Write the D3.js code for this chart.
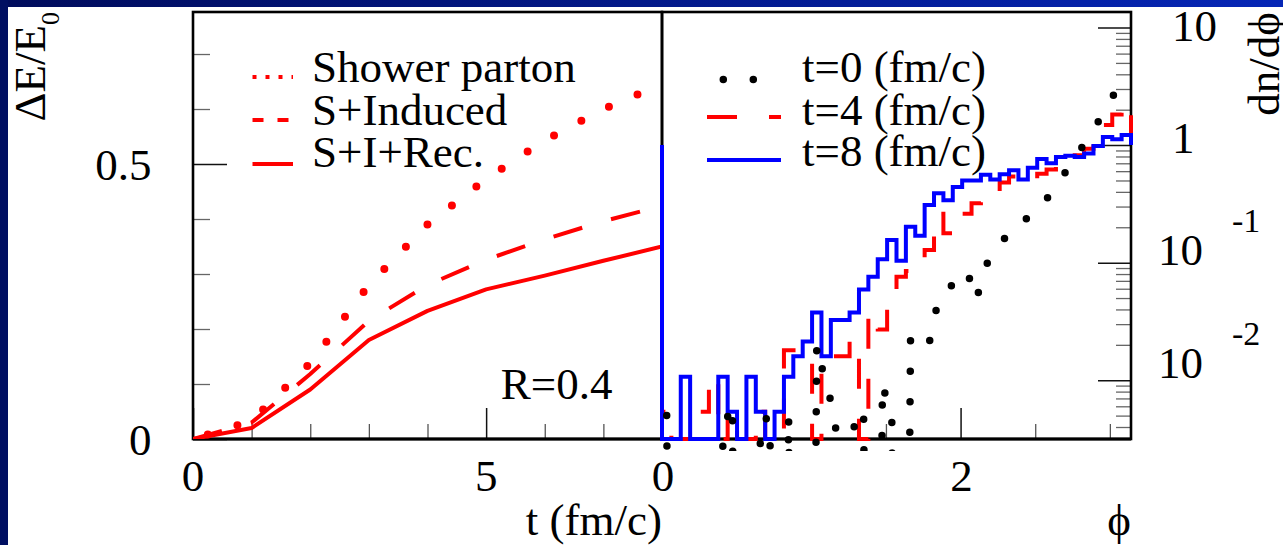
<!DOCTYPE html>
<html><head><meta charset="utf-8">
<script src="https://cdn.jsdelivr.net/npm/d3@7"></script>
<style>
body{margin:0;background:#fff;overflow:hidden}
text{font-family:"Liberation Serif","Times New Roman",serif;fill:#000}
</style>
</head><body>
<svg id="c" width="1283" height="545"></svg>
<script>
// ---------------- data ----------------
const tTimes       = [0, 1, 2, 3, 4, 5, 6, 7, 8];
const showerParton = [0, 0.033, 0.138, 0.28, 0.39, 0.473, 0.543, 0.60, 0.645];
const sInduced     = [0, 0.030, 0.118, 0.215, 0.28, 0.326, 0.363, 0.396, 0.424];
const sIRec        = [0, 0.020, 0.090, 0.180, 0.233, 0.272, 0.297, 0.324, 0.350];
const leftLegend   = ["Shower parton", "S+Induced", "S+I+Rec."];
const rightLegend  = ["t=0 (fm/c)", "t=4 (fm/c)", "t=8 (fm/c)"];
const rLabel       = "R=0.4";

const nBins = 50;
const hist_t0 = [0.0050,0,0,0,0,0,0.0038,0.0063,0,0,
                 0.0047,0.0047,0,0.0050,0,0,0.020,0.0089,0.0050,0,
                 0.0056,0.0047,0,0.0093,0.0047,0,0.025,0.024,0.021,0.050,
                 0.060,0.071,0.086,0.048,0.093,0.13,0.16,0.21,0.23,0.25,
                 0.30,0.40,0.50,0.69,0.89,1.17,1.58,2.14,3.02,4.17];
const hist_t4 = [0.0054,0,0,0,0.0054,0.0107,0,0.0054,0,0,
                 0.0054,0,0,0.018,0.018,0.0165,0,0.016,0.016,0.016,
                 0.022,0,0.037,0.027,0.057,0.076,0.085,0.101,0.128,0.26,
                 0.178,0.25,0.26,0.32,0.33,0.38,0.48,0.54,0.52,0.49,
                 0.57,0.62,0.66,0.72,0.82,0.93,1.17,1.48,1.82,2.25];
const hist_t8 = [0,0,0.0107,0,0,0,0.0107,0.0054,0,0.0107,
                 0.0054,0,0.0054,0.0107,0.016,0.0213,0.0376,0.016,0.0326,0.0326,
                 0.0376,0.059,0.076,0.107,0.156,0.104,0.202,0.169,0.31,0.39,
                 0.34,0.44,0.50,0.50,0.56,0.51,0.565,0.61,0.51,0.64,
                 0.76,0.70,0.79,0.81,0.79,0.85,0.98,1.17,1.12,1.22];
const histEdgeValue = 1.0;     // value at which step outlines open/close at phi=0 and phi=pi
const t0ZeroValue = 1e-12;     // empty bins of the smooth t=0 curve

const leftXMajor = [0, 5], leftXMinor = [1, 2, 3, 4, 6, 7];
const leftYMajor = [0, 0.5], leftYMinor = [0.1, 0.2, 0.3, 0.4, 0.6, 0.7];
const rightXMajor = [0, 2], rightXMinor = [0.5, 1, 1.5, 2.5, 3];
const rightYMajor = [0.01, 0.1, 1, 10];

// ---------------- layout ----------------
const svg = d3.select("#c");
const PL = {x0: 193, x1: 662}, PR = {x0: 662, x1: 1131}, yTop = 12, yBot = 439;

const xL = d3.scaleLinear().domain([0, 8]).range([PL.x0, PL.x1]);
const yL = d3.scaleLinear().domain([0, 0.7764]).range([yBot, yTop]);
const xR = d3.scaleLinear().domain([0, Math.PI]).range([PR.x0, PR.x1]);
const yR = d3.scaleLog().domain([Math.pow(10, -2.5), Math.pow(10, 1.132)]).range([yBot, yTop]);

// background + blue frame bands
const defs = svg.append("defs");
const g1 = defs.append("linearGradient").attr("id", "band").attr("x1", 0).attr("x2", 1).attr("y1", 0).attr("y2", 0);
g1.append("stop").attr("offset", 0).attr("stop-color", "#000c5c");
g1.append("stop").attr("offset", 1).attr("stop-color", "#0626b6");
svg.append("rect").attr("width", 1283).attr("height", 545).attr("fill", "#fff");
svg.append("rect").attr("x", 0).attr("y", 0).attr("width", 1283).attr("height", 7).attr("fill", "url(#band)");
svg.append("rect").attr("x", 0).attr("y", 0).attr("width", 8).attr("height", 545).attr("fill", "#000f62");

defs.append("clipPath").attr("id", "clipL").append("rect")
  .attr("x", PL.x0).attr("y", yTop).attr("width", PL.x1 - PL.x0).attr("height", yBot - yTop);
defs.append("clipPath").attr("id", "clipR").append("rect")
  .attr("x", PR.x0 - 2).attr("y", yTop).attr("width", PR.x1 - PR.x0 + 4).attr("height", yBot - yTop + 12);

// ---------------- axes / ticks ----------------
function styleAxis(g, color, w) {
  g.select(".domain").remove();
  g.selectAll(".tick line").attr("stroke", color).attr("stroke-width", w);
  g.selectAll("text").remove();
}
svg.append("g").attr("transform", `translate(0,${yBot})`)
  .call(d3.axisBottom(xL).tickValues(leftXMinor).tickSize(-15)).call(g => styleAxis(g, "#555", 1.3));
svg.append("g").attr("transform", `translate(0,${yBot})`)
  .call(d3.axisBottom(xL).tickValues(leftXMajor).tickSize(-31)).call(g => styleAxis(g, "#111", 1.5));
svg.append("g").attr("transform", `translate(${PL.x0},0)`)
  .call(d3.axisLeft(yL).tickValues(leftYMinor).tickSize(-17)).call(g => styleAxis(g, "#666", 1.3));
svg.append("g").attr("transform", `translate(${PL.x0},0)`)
  .call(d3.axisLeft(yL).tickValues(leftYMajor).tickSize(-34)).call(g => styleAxis(g, "#111", 1.5));
svg.append("g").attr("transform", `translate(0,${yBot})`)
  .call(d3.axisBottom(xR).tickValues(rightXMinor).tickSize(-15)).call(g => styleAxis(g, "#555", 1.3));
svg.append("g").attr("transform", `translate(0,${yBot})`)
  .call(d3.axisBottom(xR).tickValues(rightXMajor).tickSize(-31)).call(g => styleAxis(g, "#111", 1.5));
const [ylo, yhi] = yR.domain();
const rightYMinor = [];
for (let e = -3; e <= 1; e++) for (let m = 2; m <= 9; m++) {
  const v = m * Math.pow(10, e);
  if (v > ylo && v < yhi) rightYMinor.push(v);
}
svg.append("g").attr("transform", `translate(${PR.x1},0)`)
  .call(d3.axisRight(yR).tickValues(rightYMinor).tickSize(-15)).call(g => styleAxis(g, "#666", 1.3));
svg.append("g").attr("transform", `translate(${PR.x1},0)`)
  .call(d3.axisRight(yR).tickValues(rightYMajor).tickSize(-33)).call(g => styleAxis(g, "#111", 1.5));

// frames
svg.append("rect").attr("x", PL.x0).attr("y", yTop).attr("width", PL.x1 - PL.x0).attr("height", yBot - yTop)
  .attr("fill", "none").attr("stroke", "#000").attr("stroke-width", 2.6);
svg.append("rect").attr("x", PR.x0).attr("y", yTop).attr("width", PR.x1 - PR.x0).attr("height", yBot - yTop)
  .attr("fill", "none").attr("stroke", "#000").attr("stroke-width", 2.6);
svg.append("line").attr("x1", PL.x0).attr("x2", PR.x1).attr("y1", yBot).attr("y2", yBot)
  .attr("stroke", "#000").attr("stroke-width", 3);

// ---------------- tick labels ----------------
const fs = 45;
leftXMajor.forEach(v => svg.append("text").attr("x", xL(v)).attr("y", 491).attr("text-anchor", "middle")
  .attr("font-size", fs).text(v));
rightXMajor.forEach(v => svg.append("text").attr("x", xR(v) + 1).attr("y", 491).attr("text-anchor", "middle")
  .attr("font-size", fs).text(v));
leftYMajor.forEach(v => svg.append("text").attr("x", 151.5).attr("y", yL(v) + 16).attr("text-anchor", "end")
  .attr("font-size", fs).text(v));
rightYMajor.forEach(v => {
  const e = Math.round(Math.log10(v));
  const base = yR(v) + 8 + 5.3 * e;
  if (e >= 0) {
    svg.append("text").attr("x", 1172).attr("y", base).attr("font-size", fs).text(e === 0 ? "1" : "10");
  } else {
    svg.append("text").attr("x", 1158).attr("y", base).attr("font-size", fs).text("10");
    svg.append("text").attr("x", 1232).attr("y", base - 33).attr("font-size", 34).text(String(e));
  }
});

// axis titles
svg.append("text").attr("x", 662).attr("y", 535).attr("text-anchor", "end").attr("font-size", fs).text("t (fm/c)");
svg.append("text").attr("x", 1131).attr("y", 535).attr("text-anchor", "end").attr("font-size", fs).text("ϕ");
const yt = svg.append("text").attr("transform", "translate(45,12) rotate(-90)").attr("text-anchor", "end").attr("font-size", fs);
yt.append("tspan").text("ΔE/E");
yt.append("tspan").attr("font-size", 26).attr("dy", 14).text("0");
svg.append("text").attr("transform", "translate(1279,12) rotate(-90)").attr("text-anchor", "end")
  .attr("font-size", fs).text("dn/dϕ");

// ---------------- left panel curves ----------------
const lineL = d3.line().x((d, i) => xL(tTimes[i])).y(d => yL(d));
const gL = svg.append("g").attr("clip-path", "url(#clipL)");
gL.append("path").attr("d", lineL(showerParton)).attr("fill", "none").attr("stroke", "#ff0000")
  .attr("stroke-width", 8).attr("stroke-linecap", "round").attr("stroke-dasharray", "0 31").attr("stroke-dashoffset", 15.5);
gL.append("path").attr("d", lineL(sInduced)).attr("fill", "none").attr("stroke", "#ff0000")
  .attr("stroke-width", 4).attr("stroke-dasharray", "30 30");
gL.append("path").attr("d", lineL(sIRec)).attr("fill", "none").attr("stroke", "#ff0000")
  .attr("stroke-width", 4).attr("stroke-linejoin", "round");

// ---------------- right panel histograms ----------------
const bw = Math.PI / nBins;
function stepPoints(h) {
  const pts = [[0, histEdgeValue]];
  h.forEach((v, k) => {
    const vv = Math.max(v, ylo);
    pts.push([k * bw, vv], [(k + 1) * bw, vv]);
  });
  pts.push([Math.PI, histEdgeValue]);
  return pts;
}
const lineR = d3.line().x(d => xR(d[0])).y(d => yR(d[1]));
const gR = svg.append("g").attr("clip-path", "url(#clipR)");
gR.append("path").attr("d", lineR(stepPoints(hist_t4))).attr("fill", "none").attr("stroke", "#ff0000")
  .attr("stroke-width", 4).attr("stroke-dasharray", "30 30");
gR.append("path").attr("d", lineR(stepPoints(hist_t8))).attr("fill", "none").attr("stroke", "#0000ff")
  .attr("stroke-width", 4);
const t0pts = hist_t0.map((v, k) => [(k + 0.5) * bw, v > 0 ? v : t0ZeroValue]);
gR.append("path").attr("d", lineR(t0pts)).attr("fill", "none").attr("stroke", "#000")
  .attr("stroke-width", 7.5).attr("stroke-linecap", "round").attr("stroke-dasharray", "0 30.5");

// ---------------- legends ----------------
const legL = [
  {y: 77, dash: "4 9", ty: 82},
  {y: 120, dash: "11 14", ty: 125},
  {y: 164, dash: null, ty: 166.5}
];
legL.forEach((d, i) => {
  svg.append("line").attr("x1", 252.5).attr("x2", 293).attr("y1", d.y).attr("y2", d.y)
    .attr("stroke", "#ff0000").attr("stroke-width", 4).attr("stroke-dasharray", d.dash);
  svg.append("text").attr("x", 312).attr("y", d.ty).attr("font-size", fs).text(leftLegend[i]);
});
const legR = [
  {y: 79.5, color: "#000", w: 7.5, dash: "0 30", off: 13.7, cap: "round", ty: 81.5},
  {y: 117, color: "#ff0000", w: 4, dash: "30 32", off: 0, cap: "butt", ty: 125},
  {y: 160, color: "#0000ff", w: 4, dash: null, off: 0, cap: "butt", ty: 166}
];
legR.forEach((d, i) => {
  svg.append("line").attr("x1", 707).attr("x2", 781).attr("y1", d.y).attr("y2", d.y)
    .attr("stroke", d.color).attr("stroke-width", d.w).attr("stroke-dasharray", d.dash)
    .attr("stroke-dashoffset", d.off).attr("stroke-linecap", d.cap);
  svg.append("text").attr("x", 802).attr("y", d.ty).attr("font-size", fs).text(rightLegend[i]);
});
svg.append("text").attr("x", xL(5.25)).attr("y", yL(0.073)).attr("font-size", fs).text(rLabel);
</script>
</body></html>
